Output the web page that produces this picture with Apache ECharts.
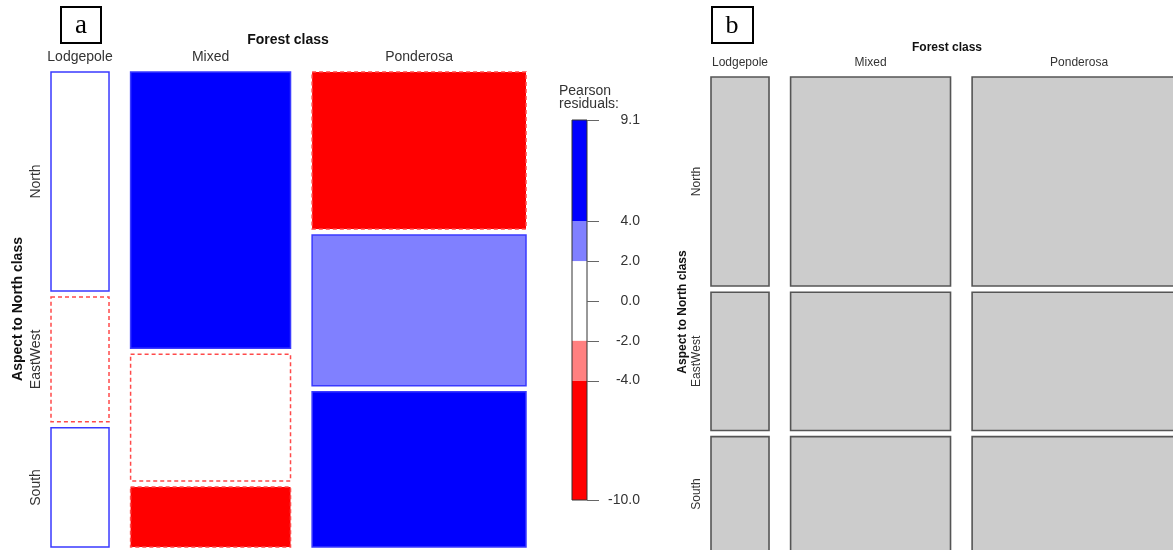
<!DOCTYPE html>
<html>
<head>
<meta charset="utf-8">
<title>Forest class by aspect – mosaic plots</title>
<script src="https://cdn.jsdelivr.net/npm/echarts@6/dist/echarts.min.js"></script>
<style>
  html, body { margin: 0; padding: 0; background: #ffffff; }
  #chart { width: 1173px; height: 550px; }
</style>
</head>
<body>
<div id="chart"></div>
<script>
// Categories of the two-way table
const forestClasses = ['Lodgepole', 'Mixed', 'Ponderosa'];
const aspectClasses = ['North', 'EastWest', 'South'];

// Observed counts per forest class, in aspectClasses order
const lodgepoleCounts = [305, 174, 166];
const mixedCounts = [1061, 487, 230];
const ponderosaCounts = [806, 775, 797];

// Tick values on the residual colour bar
const residualTicks = [9.1, 4.0, 2.0, 0.0, -2.0, -4.0, -10.0];

// ---- layout / style constants ----
const GAP_X = 0.05;   // spacing between forest-class columns (fraction of width)
const GAP_Y = 0.013;  // spacing between aspect tiles
const GAP_Y_B = 0.0135;
const SANS = '"Liberation Sans", Arial, sans-serif';
const SERIF = '"Liberation Serif", "Times New Roman", serif';

const table = [lodgepoleCounts, mixedCounts, ponderosaCounts];
const total = table.reduce((s, col) => s + col.reduce((a, b) => a + b, 0), 0);
const colTotals = table.map(col => col.reduce((a, b) => a + b, 0));
const rowTotals = aspectClasses.map((_, i) => table.reduce((s, col) => s + col[i], 0));

// Friendly-style shading of Pearson residuals
function shadeFill(r) {
  if (r > 4) return '#0000FF';
  if (r > 2) return '#8080FF';
  if (r >= -2) return '#FFFFFF';
  if (r >= -4) return '#FF8080';
  return '#FF0000';
}

// Column extents
const columns = [];
{
  let cx = 0;
  colTotals.forEach((c, j) => {
    const w = c / total;
    columns.push({ x0: cx, x1: cx + w, name: forestClasses[j] });
    cx += w + GAP_X;
  });
}

// Tiles: observed (panel a) and independence expectation (panel b)
const observedTiles = [];
const expectedTiles = [];
columns.forEach((col, j) => {
  let yo = 0, ye = 0;
  aspectClasses.forEach((asp, i) => {
    const obs = table[j][i];
    const exp = colTotals[j] * rowTotals[i] / total;
    const resid = (obs - exp) / Math.sqrt(exp);
    const ho = obs / colTotals[j];
    observedTiles.push([col.x0, col.x1, yo, yo + ho, resid]);
    yo += ho + GAP_Y;
    const he = rowTotals[i] / total;
    expectedTiles.push([col.x0, col.x1, ye, ye + he, 0]);
    ye += he + GAP_Y_B;
  });
});

// Label anchors (columns centred; rows follow the first column)
const colLabelData = columns.map((c, j) => [(c.x0 + c.x1) / 2, j]);
function rowLabelData(tiles) {
  return aspectClasses.map((_, i) => [(tiles[i][2] + tiles[i][3]) / 2, i]);
}

// Colour-bar bands
const rMax = Math.max(...residualTicks);
const rMin = Math.min(...residualTicks);
const bandEdges = [rMax, 4, 2, -2, -4, rMin];
const bandData = [];
for (let k = 0; k < bandEdges.length - 1; k++) {
  bandData.push([bandEdges[k + 1], bandEdges[k]]);
}

function renderObserved(params, api) {
  const p0 = api.coord([api.value(0), api.value(2)]);
  const p1 = api.coord([api.value(1), api.value(3)]);
  const r = api.value(4);
  const positive = r >= 0;
  return {
    type: 'rect',
    shape: { x: p0[0], y: p0[1], width: p1[0] - p0[0], height: p1[1] - p0[1] },
    style: {
      fill: shadeFill(r),
      stroke: positive ? '#3a3aff' : '#ff4a4a',
      lineWidth: 1.5,
      lineDash: positive ? null : [4, 3]
    }
  };
}

function renderExpected(params, api) {
  const p0 = api.coord([api.value(0), api.value(2)]);
  const p1 = api.coord([api.value(1), api.value(3)]);
  return {
    type: 'rect',
    shape: { x: p0[0], y: p0[1], width: p1[0] - p0[0], height: p1[1] - p0[1] },
    style: { fill: '#CCCCCC', stroke: '#555555', lineWidth: 1.6 }
  };
}

function colLabelRenderer(offsetY, size) {
  return function (params, api) {
    const p = api.coord([api.value(0), 0]);
    return {
      type: 'text',
      x: p[0], y: p[1] + offsetY,
      style: {
        text: forestClasses[api.value(1)],
        font: size + 'px ' + SANS,
        fill: '#333333', align: 'center', verticalAlign: 'middle'
      }
    };
  };
}

function rowLabelRenderer(offsetX, size) {
  return function (params, api) {
    const p = api.coord([0, api.value(0)]);
    return {
      type: 'text',
      x: p[0] + offsetX, y: p[1],
      rotation: Math.PI / 2,
      style: {
        text: aspectClasses[api.value(1)],
        font: size + 'px ' + SANS,
        fill: '#333333', align: 'center', verticalAlign: 'middle'
      }
    };
  };
}

function renderBand(params, api) {
  const p0 = api.coord([0, api.value(1)]);
  const p1 = api.coord([1, api.value(0)]);
  return {
    type: 'rect',
    shape: { x: p0[0], y: p0[1], width: p1[0] - p0[0], height: p1[1] - p0[1] },
    style: { fill: shadeFill((api.value(0) + api.value(1)) / 2), stroke: null }
  };
}

function renderBarOutline(params, api) {
  const p0 = api.coord([0, api.value(1)]);
  const p1 = api.coord([1, api.value(0)]);
  return {
    type: 'rect',
    shape: { x: p0[0], y: p0[1], width: p1[0] - p0[0], height: p1[1] - p0[1] },
    style: { fill: null, stroke: '#333333', lineWidth: 1 }
  };
}

// Tick marks to the right of the colour bar
function renderBarTick(params, api) {
  const p = api.coord([1, api.value(0)]);
  const y = Math.round(p[1]) + 0.5;
  return {
    type: 'line',
    shape: { x1: p[0], y1: y, x2: p[0] + 12, y2: y },
    style: { stroke: '#666666', lineWidth: 1 }
  };
}

const chart = echarts.init(document.getElementById('chart'), null, { renderer: 'canvas' });

const hiddenAxis = { type: 'value', show: false, splitLine: { show: false } };

const option = {
  backgroundColor: '#ffffff',
  animation: false,
  grid: [
    { left: 51, top: 72, width: 475, height: 475, outerBoundsMode: 'none', containLabel: false },
    { left: 711, top: 77, width: 475, height: 474, outerBoundsMode: 'none', containLabel: false },
    { left: 572, top: 120, width: 15, height: 380, outerBoundsMode: 'none', containLabel: false }
  ],
  xAxis: [
    Object.assign({ gridIndex: 0, min: 0, max: 1 + 2 * GAP_X }, hiddenAxis),
    Object.assign({ gridIndex: 1, min: 0, max: 1 + 2 * GAP_X }, hiddenAxis),
    Object.assign({ gridIndex: 2, min: 0, max: 1 }, hiddenAxis)
  ],
  yAxis: [
    Object.assign({ gridIndex: 0, min: 0, max: 1 + 2 * GAP_Y, inverse: true }, hiddenAxis),
    Object.assign({ gridIndex: 1, min: 0, max: 1 + 2 * GAP_Y, inverse: true }, hiddenAxis),
    {
      gridIndex: 2, type: 'value', min: rMin, max: rMax, position: 'right',
      axisLine: { show: false },
      splitLine: { show: false },
      axisTick: { show: false },
      axisLabel: { show: true, customValues: residualTicks,
                   formatter: v => v.toFixed(1), align: 'right', margin: 53,
                   fontSize: 14, fontFamily: SANS, color: '#333333' }
    }
  ],
  series: [
    { type: 'custom', xAxisIndex: 0, yAxisIndex: 0, renderItem: renderObserved,
      data: observedTiles, z: 2 },
    { type: 'custom', xAxisIndex: 1, yAxisIndex: 1, renderItem: renderExpected,
      data: expectedTiles, z: 2 },
    { type: 'custom', xAxisIndex: 0, yAxisIndex: 0, renderItem: colLabelRenderer(-15, 14),
      data: colLabelData, z: 3, silent: true },
    { type: 'custom', xAxisIndex: 1, yAxisIndex: 1, renderItem: colLabelRenderer(-14, 12),
      data: colLabelData, z: 3, silent: true },
    { type: 'custom', xAxisIndex: 0, yAxisIndex: 0, renderItem: rowLabelRenderer(-15, 14),
      data: rowLabelData(observedTiles), z: 3, silent: true },
    { type: 'custom', xAxisIndex: 1, yAxisIndex: 1, renderItem: rowLabelRenderer(-14, 12),
      data: rowLabelData(expectedTiles), z: 3, silent: true },
    { type: 'custom', xAxisIndex: 2, yAxisIndex: 2, renderItem: renderBand,
      data: bandData, z: 2 },
    { type: 'custom', xAxisIndex: 2, yAxisIndex: 2, renderItem: renderBarOutline,
      data: [[rMin, rMax]], z: 3 },
    { type: 'custom', xAxisIndex: 2, yAxisIndex: 2, renderItem: renderBarTick,
      data: residualTicks.map(v => [v]), z: 3, clip: false }
  ],
  graphic: [
    // panel tags
    { type: 'rect', shape: { x: 61, y: 7, width: 40, height: 36 },
      style: { fill: '#ffffff', stroke: '#000000', lineWidth: 2 } },
    { type: 'text', x: 81, y: 26, style: { text: 'a', font: '27px ' + SERIF,
      fill: '#000000', align: 'center', verticalAlign: 'middle' } },
    { type: 'rect', shape: { x: 712, y: 7, width: 41, height: 36 },
      style: { fill: '#ffffff', stroke: '#000000', lineWidth: 2 } },
    { type: 'text', x: 732, y: 26, style: { text: 'b', font: '26px ' + SERIF,
      fill: '#000000', align: 'center', verticalAlign: 'middle' } },
    // variable names
    { type: 'text', x: 288, y: 40, style: { text: 'Forest class', font: 'bold 14px ' + SANS,
      fill: '#111111', align: 'center', verticalAlign: 'middle' } },
    { type: 'text', x: 18, y: 309, rotation: Math.PI / 2,
      style: { text: 'Aspect to North class', font: 'bold 14px ' + SANS,
      fill: '#111111', align: 'center', verticalAlign: 'middle' } },
    { type: 'text', x: 947, y: 48, style: { text: 'Forest class', font: 'bold 12px ' + SANS,
      fill: '#111111', align: 'center', verticalAlign: 'middle' } },
    { type: 'text', x: 683, y: 312, rotation: Math.PI / 2,
      style: { text: 'Aspect to North class', font: 'bold 12px ' + SANS,
      fill: '#111111', align: 'center', verticalAlign: 'middle' } },
    // colour bar title
    { type: 'text', x: 559, y: 91, style: { text: 'Pearson', font: '14px ' + SANS,
      fill: '#333333', align: 'left', verticalAlign: 'middle' } },
    { type: 'text', x: 559, y: 104, style: { text: 'residuals:', font: '14px ' + SANS,
      fill: '#333333', align: 'left', verticalAlign: 'middle' } }
  ]
};

chart.setOption(option);
</script>
</body>
</html>
